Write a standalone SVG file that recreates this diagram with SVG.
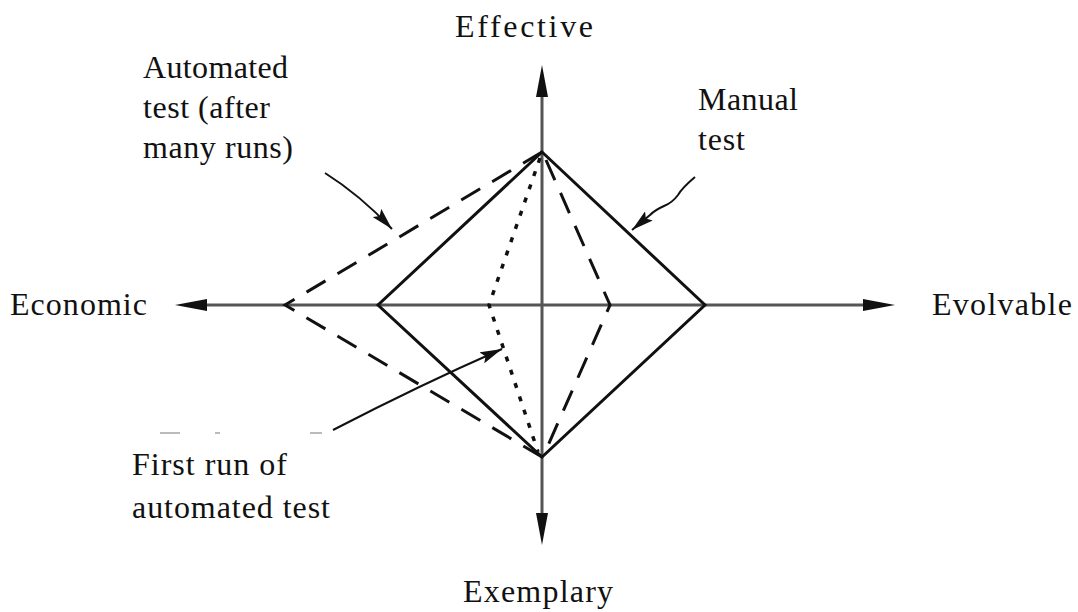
<svg xmlns="http://www.w3.org/2000/svg" width="1078" height="612" viewBox="0 0 1078 612">
<style>
text{font-family:"Liberation Serif","Tinos","Times New Roman","DejaVu Serif",serif;font-size:32px;fill:#111}
.axis{stroke:#555;stroke-width:3;fill:none}
.head{fill:#111}
.solid{stroke:#111;stroke-width:3;fill:none;stroke-linejoin:miter}
.dash{stroke:#111;stroke-width:3;fill:none;stroke-dasharray:22 14}
.dot{stroke:#111;stroke-width:3.5;fill:none;stroke-dasharray:5 9}
.ann{stroke:#111;stroke-width:2;fill:none}
</style>
<defs>
<marker id="ahBig" viewBox="0 0 22 12" refX="22" refY="6" markerWidth="22" markerHeight="12" markerUnits="userSpaceOnUse" orient="auto">
<path d="M0,0 L22,6 L0,12 L4,6 Z" fill="#111"/>
</marker>
</defs>
<rect width="1078" height="612" fill="#fff"/>
<g id="axes">
<line class="axis" x1="200" y1="305" x2="870" y2="305"/>
<line class="axis" x1="542" y1="92" x2="542" y2="518"/>
<polygon class="head" points="175,305 207,299 207,311"/>
<polygon class="head" points="895,305 863,299 863,311"/>
<polygon class="head" points="542,65 536,97 548,97"/>
<polygon class="head" points="542,545 536,513 548,513"/>
</g>
<g id="manual-test-shape">
<polygon class="solid" points="542,152 705,305 542,457 378,305"/>
</g>
<g id="automated-many-runs-shape">
<polyline class="dash" points="542,152 285,305 542,457"/>
<polyline class="dash" points="546,160 610,305 546,450"/>
</g>
<g id="first-run-shape">
<polyline class="dot" points="540,158 489,305 538,452"/>
</g>
<g id="label-effective"><text x="455" y="37" textLength="138" lengthAdjust="spacing">Effective</text></g>
<g id="label-economic"><text x="10" y="315" textLength="137" lengthAdjust="spacing">Economic</text></g>
<g id="label-evolvable"><text x="932" y="315" textLength="140" lengthAdjust="spacing">Evolvable</text></g>
<g id="label-exemplary"><text x="463" y="602" textLength="150" lengthAdjust="spacing">Exemplary</text></g>
<g id="label-automated">
<text x="143" y="78" textLength="145" lengthAdjust="spacing">Automated</text>
<text x="143" y="118" textLength="127" lengthAdjust="spacing">test (after</text>
<text x="143" y="158" textLength="150" lengthAdjust="spacing">many runs)</text>
</g>
<g id="label-manual">
<text x="698" y="110" textLength="100" lengthAdjust="spacing">Manual</text>
<text x="698" y="150" textLength="47" lengthAdjust="spacing">test</text>
</g>
<g id="label-first-run">
<text x="132" y="475" textLength="155" lengthAdjust="spacing">First run of</text>
<text x="132" y="518" textLength="198" lengthAdjust="spacing">automated test</text>
</g>
<g id="faint-mark">
<path d="M160,433 H180 M215,433 H220 M310,433 H322" stroke="#bbb" stroke-width="2" fill="none"/>
</g>
<g id="connectors">
<path class="ann" d="M325,173 Q360,195 392,229" marker-end="url(#ahBig)"/>
<path class="ann" d="M695,177 Q682,188 678,195 Q672,203 664,206 Q655,210 650,215 L632,230" marker-end="url(#ahBig)"/>
<path class="ann" d="M333,430 Q420,385 502,349" marker-end="url(#ahBig)"/>
</g>
</svg>
